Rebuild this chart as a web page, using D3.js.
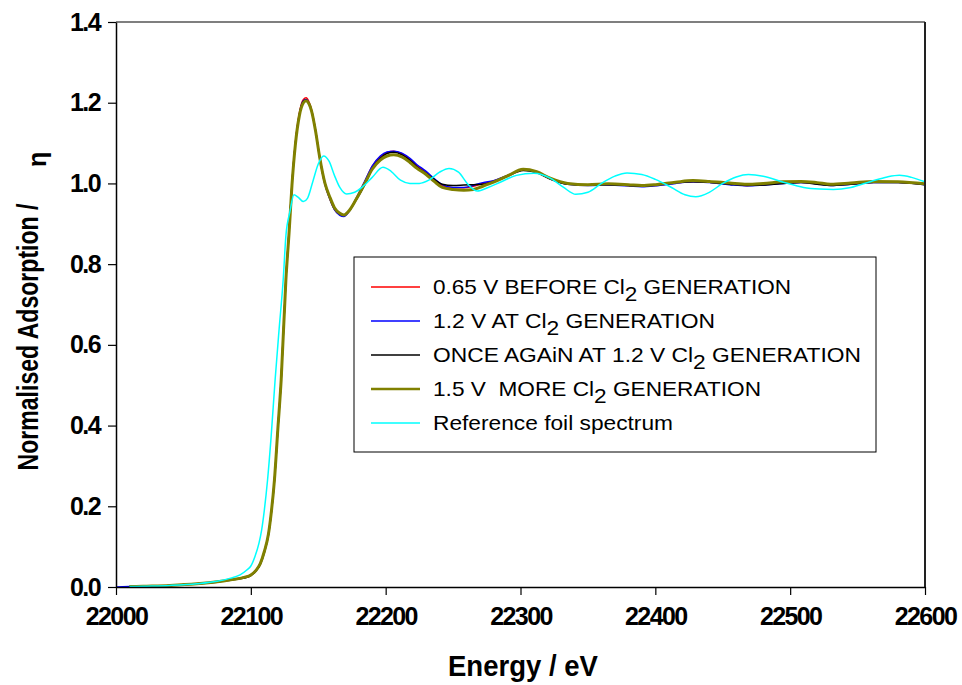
<!DOCTYPE html>
<html>
<head>
<meta charset="utf-8">
<script src="https://cdn.jsdelivr.net/npm/d3@7"></script>
<style>
  html, body { margin: 0; padding: 0; background: #fff; }
  svg { display: block; font-family: "Liberation Sans", Arial, sans-serif; }
</style>
</head>
<body>
<svg id="chart" width="962" height="685"></svg>
<script>
// Photon energy grid (eV) shared by the four electrode spectra
const energy = [
  22000, 22010, 22020, 22040, 22060, 22075, 22085, 22095, 22100, 22104,
  22107, 22110, 22113, 22115, 22117.5, 22120, 22122.5, 22126, 22128.5, 22130.5,
  22133, 22136, 22139, 22141, 22143, 22145, 22148, 22151, 22155, 22158.5,
  22162, 22166, 22169, 22173, 22178, 22185, 22190, 22196, 22201, 22206,
  22212, 22218, 22223, 22230, 22236, 22242, 22250, 22258, 22265, 22272,
  22280, 22290, 22302, 22312, 22322, 22335, 22350, 22365, 22380, 22390,
  22400, 22415, 22428, 22440, 22455, 22468, 22480, 22495, 22508, 22520,
  22530, 22545, 22562, 22580, 22600
];

// 0.65 V before Cl2 generation
const before065 = [
  null, 0.001, 0.002, 0.004, 0.008, 0.013, 0.018, 0.024, 0.030, 0.042,
  0.058, 0.088, 0.130, 0.180, 0.265, 0.390, 0.515, 0.765, 0.890, 1.000,
  1.100, 1.175, 1.208, 1.212, 1.203, 1.183, 1.132, 1.066, 0.998, 0.963,
  0.936, 0.923, 0.920, 0.932, 0.962, 1.008, 1.042, 1.066, 1.077, 1.080,
  1.074, 1.060, 1.045, 1.028, 1.010, 0.995, 0.989, 0.989, 0.993, 1.000,
  1.006, 1.019, 1.034, 1.028, 1.012, 0.999, 0.996, 0.997, 0.995, 0.993,
  0.995, 1.001, 1.005, 1.003, 0.999, 0.995, 0.997, 1.001, 1.003, 1.000,
  0.996, 0.999, 1.003, 1.003, 0.998
];

// 1.2 V at Cl2 generation
const at12 = [
  0.000, 0.001, 0.002, 0.004, 0.008, 0.013, 0.018, 0.024, 0.030, 0.042,
  0.058, 0.088, 0.130, 0.180, 0.265, 0.390, 0.514, 0.763, 0.888, 0.998,
  1.098, 1.172, 1.205, 1.208, 1.200, 1.181, 1.130, 1.064, 0.997, 0.962,
  0.935, 0.921, 0.918, 0.931, 0.962, 1.009, 1.043, 1.068, 1.078, 1.080,
  1.075, 1.062, 1.047, 1.030, 1.012, 0.997, 0.990, 0.990, 0.995, 1.002,
  1.007, 1.019, 1.033, 1.027, 1.011, 0.998, 0.995, 0.996, 0.994, 0.992,
  0.994, 1.000, 1.004, 1.002, 0.997, 0.994, 0.996, 1.000, 1.002, 0.999,
  0.995, 0.998, 1.002, 1.002, 0.997
];

// once again at 1.2 V
const again12 = [
  null, 0.001, 0.002, 0.004, 0.008, 0.012, 0.017, 0.022, 0.028, 0.040,
  0.056, 0.085, 0.127, 0.177, 0.262, 0.387, 0.512, 0.760, 0.886, 0.996,
  1.097, 1.170, 1.203, 1.207, 1.199, 1.180, 1.131, 1.067, 1.001, 0.966,
  0.938, 0.924, 0.921, 0.933, 0.958, 1.000, 1.036, 1.062, 1.074, 1.077,
  1.071, 1.057, 1.042, 1.025, 1.010, 0.998, 0.995, 0.996, 0.997, 0.998,
  1.004, 1.017, 1.032, 1.027, 1.011, 0.998, 0.996, 0.997, 0.995, 0.993,
  0.996, 1.002, 1.004, 1.003, 0.998, 0.995, 0.996, 1.000, 1.002, 0.998,
  0.995, 0.998, 1.002, 1.002, 0.997
];

// 1.5 V, more Cl2 generation
const more15 = [
  null, 0.001, 0.002, 0.004, 0.008, 0.013, 0.018, 0.024, 0.030, 0.042,
  0.058, 0.088, 0.130, 0.180, 0.265, 0.390, 0.513, 0.761, 0.885, 0.995,
  1.095, 1.168, 1.200, 1.205, 1.198, 1.180, 1.130, 1.066, 1.000, 0.967,
  0.940, 0.926, 0.922, 0.933, 0.960, 1.003, 1.035, 1.058, 1.068, 1.071,
  1.066, 1.052, 1.038, 1.022, 1.005, 0.990, 0.985, 0.983, 0.985, 0.993,
  1.003, 1.018, 1.035, 1.029, 1.013, 1.000, 0.997, 0.999, 0.997, 0.995,
  0.997, 1.003, 1.007, 1.005, 1.001, 0.998, 1.000, 1.004, 1.005, 1.002,
  0.998, 1.001, 1.005, 1.004, 0.999
];

// Reference foil spectrum, on its own energy grid
const refEnergy = [
  22010, 22020, 22040, 22060, 22075, 22085, 22092, 22097, 22100, 22103,
  22106, 22108, 22110, 22112.4, 22115, 22118, 22121, 22124, 22126, 22129,
  22132, 22135, 22139, 22142, 22146, 22150, 22154, 22158, 22162, 22166,
  22171, 22177, 22183, 22190, 22198, 22204, 22211, 22218, 22225, 22232,
  22240, 22247, 22254, 22261, 22268, 22276, 22285, 22297, 22310, 22322,
  22332, 22341, 22350, 22360, 22370, 22379, 22390, 22400, 22412, 22422,
  22430, 22440, 22450, 22460, 22469, 22480, 22495, 22510, 22522, 22532,
  22545, 22560, 22572, 22581, 22590, 22600
];
const refFoil = [
  0.001, 0.002, 0.004, 0.008, 0.014, 0.022, 0.030, 0.042, 0.052, 0.075,
  0.108, 0.141, 0.190, 0.265, 0.370, 0.513, 0.640, 0.761, 0.870, 0.930,
  0.972, 0.966, 0.955, 0.963, 1.005, 1.048, 1.068, 1.055, 1.020, 0.990,
  0.974, 0.978, 0.992, 1.015, 1.040, 1.030, 1.008, 1.000, 1.000, 1.008,
  1.028, 1.037, 1.028, 0.998, 0.981, 0.990, 1.003, 1.020, 1.025, 1.013,
  0.990, 0.973, 0.978, 1.000, 1.018, 1.026, 1.022, 1.010, 0.990, 0.972,
  0.967, 0.978, 1.000, 1.016, 1.022, 1.018, 1.003, 0.990, 0.986, 0.985,
  0.990, 1.005, 1.016, 1.020, 1.015, 1.004
];

// Axis ticks
const xTicks = [22000, 22100, 22200, 22300, 22400, 22500, 22600];
const yTicks = [0.0, 0.2, 0.4, 0.6, 0.8, 1.0, 1.2, 1.4];

// Legend entries (label parts: text before subscript, subscript, text after)
const legendLabels = [
  ["0.65 V BEFORE Cl", "2", " GENERATION"],
  ["1.2 V AT Cl", "2", " GENERATION"],
  ["ONCE AGAiN AT 1.2 V Cl", "2", " GENERATION"],
  ["1.5 V  MORE Cl", "2", " GENERATION"],
  ["Reference foil spectrum", "", ""]
];

const seriesList = [
  { name: "before065", xs: energy, ys: before065, color: "#ff0000", width: 1.5 },
  { name: "at12", xs: energy, ys: at12, color: "#0000ff", width: 1.5 },
  { name: "again12", xs: energy, ys: again12, color: "#000000", width: 1.5 },
  { name: "more15", xs: energy, ys: more15, color: "#808000", width: 3 },
  { name: "ref", xs: refEnergy, ys: refFoil, color: "#00ffff", width: 1.5 }
];

const svg = d3.select("#chart");
const plot = { left: 116, right: 925, top: 22, bottom: 587 };

const x = d3.scaleLinear().domain([22000, 22600]).range([plot.left, plot.right]);
const y = d3.scaleLinear().domain([0, 1.4]).range([plot.bottom, plot.top]);

svg.append("rect").attr("width", 962).attr("height", 685).attr("fill", "#fff");

// Spectra
const line = d3.line()
  .defined(d => d[1] !== null)
  .x(d => x(d[0]))
  .y(d => y(d[1]))
  .curve(d3.curveMonotoneX);

svg.append("g").selectAll("path")
  .data(seriesList)
  .join("path")
  .attr("fill", "none")
  .attr("stroke", d => d.color)
  .attr("stroke-width", d => d.width)
  .attr("stroke-linejoin", "round")
  .attr("d", d => line(d.xs.map((e, i) => [e, d.ys[i]])));

// Frame: top and right edges
svg.append("line")
  .attr("x1", plot.left).attr("x2", plot.right)
  .attr("y1", plot.top).attr("y2", plot.top)
  .attr("stroke", "#000").attr("stroke-width", 1.2);
svg.append("line")
  .attr("x1", plot.right).attr("x2", plot.right)
  .attr("y1", plot.top).attr("y2", plot.bottom)
  .attr("stroke", "#222").attr("stroke-width", 2);

// Axes
const xAxis = d3.axisBottom(x)
  .tickValues(xTicks)
  .tickFormat(d3.format("d"))
  .tickSize(8)
  .tickSizeOuter(0)
  .tickPadding(12);
const yAxis = d3.axisLeft(y)
  .tickValues(yTicks)
  .tickFormat(d3.format(".1f"))
  .tickSize(8)
  .tickSizeOuter(0)
  .tickPadding(8);

const gx = svg.append("g").attr("transform", `translate(0,${plot.bottom})`).call(xAxis);
const gy = svg.append("g").attr("transform", `translate(${plot.left},0)`).call(yAxis);

[gx, gy].forEach(g => {
  g.select(".domain").attr("stroke", "#000").attr("stroke-width", 1.5);
  g.selectAll(".tick line").attr("stroke", "#000").attr("stroke-width", 1.2);
  g.selectAll(".tick text")
    .attr("fill", "#000")
    .style("font-family", "'Liberation Sans', Arial, sans-serif")
    .style("font-weight", "bold")
    .style("font-size", "25px")
    .style("letter-spacing", "-1.6px");
});

// Axis titles
svg.append("text")
  .attr("x", 523).attr("y", 676)
  .attr("text-anchor", "middle")
  .attr("textLength", 150)
  .attr("lengthAdjust", "spacingAndGlyphs")
  .style("font-weight", "bold")
  .style("font-size", "29px")
  .text("Energy / eV");

svg.append("text")
  .attr("transform", "translate(38,337) rotate(-90)")
  .attr("text-anchor", "middle")
  .attr("textLength", 267)
  .attr("lengthAdjust", "spacingAndGlyphs")
  .style("font-weight", "bold")
  .style("font-size", "30px")
  .text("Normalised Adsorption /");

svg.append("text")
  .attr("transform", "translate(46,167) rotate(-90)")
  .attr("text-anchor", "start")
  .style("font-size", "25px")
  .style("font-weight", "bold")
  .text("η");

// Legend
const legend = svg.append("g");
legend.append("rect")
  .attr("x", 354).attr("y", 257)
  .attr("width", 522).attr("height", 195)
  .attr("fill", "#fff")
  .attr("stroke", "#000")
  .attr("stroke-width", 1);

const legendWidths = [358, 282, 428, 328, 240];
seriesList.forEach((s, i) => {
  const cy = 287 + i * 34;
  legend.append("line")
    .attr("x1", 371).attr("x2", 420)
    .attr("y1", cy).attr("y2", cy)
    .attr("stroke", s.color)
    .attr("stroke-width", s.width === 3 ? 2.5 : 1.5);
  const parts = legendLabels[i];
  const t = legend.append("text")
    .attr("x", 433).attr("y", cy + 7)
    .attr("textLength", legendWidths[i])
    .attr("lengthAdjust", "spacingAndGlyphs")
    .style("font-size", "21px")
    .style("white-space", "pre")
    .attr("xml:space", "preserve");
  t.append("tspan").text(parts[0]);
  if (parts[1]) {
    t.append("tspan").attr("dy", 7).text(parts[1]);
    t.append("tspan").attr("dy", -7).text(parts[2]);
  }
});
</script>
</body>
</html>
